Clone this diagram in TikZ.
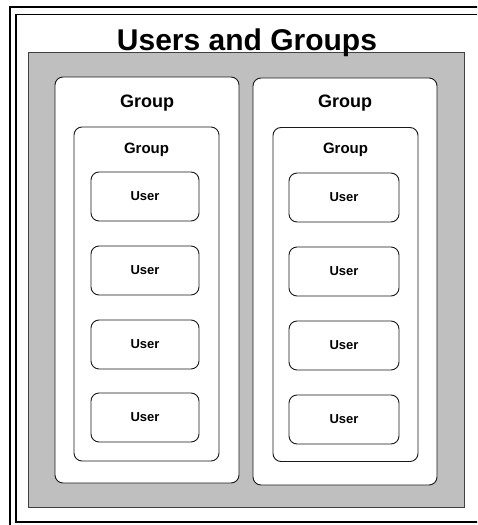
\documentclass[tikz,border=0pt]{standalone}
\usepackage{fontspec}
\setmainfont{Liberation Sans}
\begin{document}
\begin{tikzpicture}[x=1pt,y=-1pt,
  frameline/.style={draw=black, line width=1.8pt},
  area/.style={draw=black!75, line width=0.9pt, fill=black!25, inner sep=0pt},
  box/.style={draw=black!90, line width=0.9pt, fill=white, rounded corners=8pt, inner sep=0pt},
  outergroup/.style={box, minimum width=184pt},
  innergroup/.style={box, minimum width=145pt, minimum height=334pt},
  userbox/.style={box, minimum height=49pt, font=\fontsize{13}{15}\selectfont\bfseries},
  titlelabel/.style={anchor=base, inner sep=0pt, font=\fontsize{30}{34}\selectfont\bfseries},
  outerlabel/.style={anchor=base, inner sep=0pt, font=\fontsize{18}{21}\selectfont\bfseries},
  innerlabel/.style={anchor=base, inner sep=0pt, font=\fontsize{15}{18}\selectfont\bfseries}]
\useasboundingbox (0,0) rectangle (477,525);
\clip (0,0) rectangle (477,525);
% double frame (cropped at right and bottom)
\draw[frameline] (10,7) rectangle (600,600);
\draw[frameline] (16,14.5) rectangle (600,522);
% grey area
\node[area, minimum width=436pt, minimum height=455pt] (area) at (246,279.5) {};
% title
\node[titlelabel] (title) at (247,50) {Users and Groups};
% outer groups
\node[outergroup, minimum height=406pt] (g1) at (147,280) {};
\node[outergroup, minimum height=407pt] (g2) at (345,281.5) {};
\node[outerlabel] (g1l) at (147,107) {Group};
\node[outerlabel] (g2l) at (345,107) {Group};
% inner groups
\node[innergroup] (h1) at (146.5,294) {};
\node[innergroup] (h2) at (345.5,294.5) {};
\node[innerlabel] (h1l) at (146.5,153.3) {Group};
\node[innerlabel] (h2l) at (345.5,153.3) {Group};
% users, left column
\node[userbox, minimum width=108pt] (ua1) at (145,196.5) {User};
\node[userbox, minimum width=108pt] (ua2) at (145,270.5) {User};
\node[userbox, minimum width=108pt] (ua3) at (145,344.5) {User};
\node[userbox, minimum width=108pt] (ua4) at (145,417.5) {User};
% users, right column
\node[userbox, minimum width=110pt] (ub1) at (344,197.5) {User};
\node[userbox, minimum width=110pt] (ub2) at (344,271.5) {User};
\node[userbox, minimum width=110pt] (ub3) at (344,345.5) {User};
\node[userbox, minimum width=110pt] (ub4) at (344,419.5) {User};
\end{tikzpicture}
\end{document}
